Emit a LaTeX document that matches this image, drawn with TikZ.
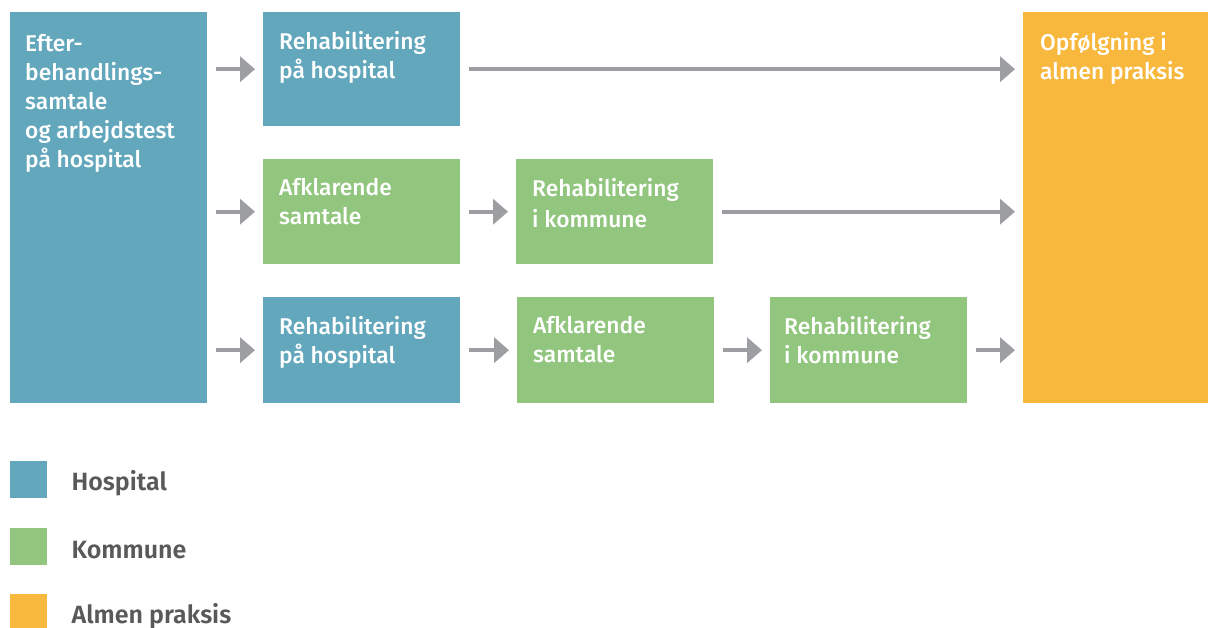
\documentclass[tikz,border=0pt]{standalone}
\usepackage{fontspec}
\setmainfont{Fira Sans}
\newfontfamily\boxfont{Fira Sans}[UprightFont={* Medium}]
\newfontfamily\legendfont{Fira Sans}[UprightFont={* SemiBold}]
\usetikzlibrary{arrows.meta,calc}
\definecolor{hosp}{HTML}{62A7BC}
\definecolor{komm}{HTML}{92C67F}
\definecolor{almen}{HTML}{F8B83D}
\definecolor{arrowgray}{HTML}{9D9EA2}
\definecolor{legendtext}{HTML}{58595B}
\begin{document}
\begin{tikzpicture}[x=1pt,y=-1pt,
  box/.style={rectangle, draw=none, inner sep=0pt, anchor=north west,
    minimum width=197pt},
  hbox/.style={box, fill=hosp},
  kbox/.style={box, fill=komm},
  boxtext/.style={anchor=north west, inner sep=0pt, align=left, text=white,
    font=\boxfont\fontsize{22.8}{29}\selectfont},
  flow/.style={draw=arrowgray, line width=4pt,
    -{Triangle[length=15pt,width=25pt]}, shorten <=9pt, shorten >=8pt},
  legbox/.style={rectangle, inner sep=0pt, minimum width=37pt,
    minimum height=37pt, anchor=north west},
  legtext/.style={anchor=west, inner sep=0pt, text=legendtext,
    font=\legendfont\fontsize{25}{30}\selectfont}
]
\useasboundingbox (0,0) rectangle (1208,628);

% first step and final step
\node[hbox, minimum width=197pt, minimum height=391pt] (start) at (10,12) {};
\node[boxtext] at ($(start.north west)+(15,22)$)
  {Efter-\\behandlings-\\samtale\\og arbejdstest\\på hospital};
\node[box, fill=almen, minimum width=185pt, minimum height=391pt] (opf) at (1023,12) {};
\node[boxtext] at ($(opf.north west)+(17,20)$) {Opfølgning i\\almen praksis};

% row 1
\node[hbox, minimum height=114pt] (r1) at (263,12) {};
\node[boxtext] at ($(r1.north west)+(16,19)$) {Rehabilitering\\på hospital};

% row 2
\node[kbox, minimum height=105pt] (a2) at (263,159) {};
\node[boxtext] at ($(a2.north west)+(16,19)$) {Afklarende\\samtale};
\node[kbox, minimum height=105pt] (k2) at (516,159) {};
\node[boxtext] at ($(k2.north west)+(16,19)$) {Rehabilitering\\[2pt]i kommune};

% row 3
\node[hbox, minimum height=106pt] (r3) at (263,297) {};
\node[boxtext] at ($(r3.north west)+(16,19)$) {Rehabilitering\\på hospital};
\node[kbox, minimum height=106pt] (a3) at (517,297) {};
\node[boxtext] at ($(a3.north west)+(16,19)$) {Afklarende\\samtale};
\node[kbox, minimum height=106pt] (k3) at (770,297) {};
\node[boxtext] at ($(k3.north west)+(14,19)$) {Rehabilitering\\i kommune};

% connectors
\draw[flow] (start.east |- r1.west) -- (r1.west);
\draw[flow] (r1.east) -- (r1.east -| opf.west);
\draw[flow] (start.east |- a2.west) -- (a2.west);
\draw[flow] (a2.east) -- (k2.west);
\draw[flow] (k2.east) -- (k2.east -| opf.west);
\draw[flow] (start.east |- r3.west) -- (r3.west);
\draw[flow] (r3.east) -- (a3.west);
\draw[flow] (a3.east) -- (k3.west);
\draw[flow] (k3.east) -- (k3.east -| opf.west);

% legend
\node[legbox, fill=hosp] (lh) at (10,461) {};
\node[legtext] at ($(lh.east)+(24,4)$) {Hospital};
\node[legbox, fill=komm] (lk) at (10,528) {};
\node[legtext] at ($(lk.east)+(24,3)$) {Kommune};
\node[legbox, fill=almen, minimum height=34pt] (la) at (10,594) {};
\node[legtext] at ($(la.east)+(24,5)$) {Almen praksis};
\end{tikzpicture}
\end{document}
